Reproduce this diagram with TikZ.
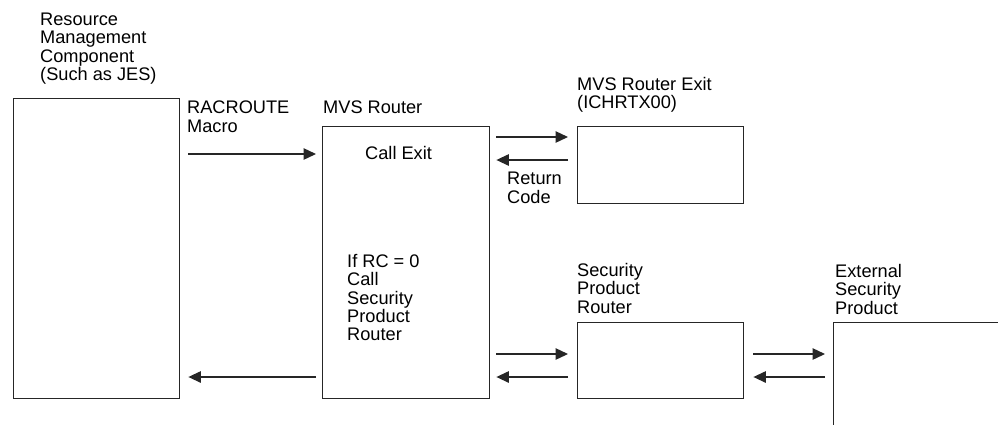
\documentclass[tikz,border=0pt]{standalone}
\usepackage{fontspec}
\setmainfont{Liberation Sans}
\usetikzlibrary{arrows.meta,calc}
\begin{document}
\begin{tikzpicture}[x=1pt,y=1pt,
  box/.style={draw=black!85, line width=1.4pt, inner sep=0pt, anchor=north west},
  lbl/.style={anchor=north west, inner sep=0pt, align=left, font=\fontsize{18.2}{18.4}\selectfont},
  arr/.style={line width=1.3pt, draw=black!85, -{Triangle[length=12.5pt,width=11.5pt]}}]
\useasboundingbox (0,0) rectangle (998,-424);
% boxes
\node[box, minimum width=166pt, minimum height=300pt] (res) at (13,-98) {};
\node[box, minimum width=167pt, minimum height=272pt] (mvs) at (322,-126) {};
\node[box, minimum width=166pt, minimum height=77pt] (exit) at (577,-126) {};
\node[box, minimum width=166pt, minimum height=76pt] (spr) at (577,-322) {};
\begin{scope}
\clip (0,0) rectangle (998,-424);
\node[box, minimum width=200pt, minimum height=140pt] (esp) at (833,-322) {};
\end{scope}
% labels
\node[lbl] (tres) at (40,-12.5) {Resource\\Management\\Component\\(Such as JES)};
\node[lbl] (trac) at (187,-101) {RACROUTE\\Macro};
\node[lbl] (tmvs) at (323,-101) {MVS Router};
\node[lbl] (tcall) at (365,-146) {Call Exit};
\node[lbl] (tif) at (347,-254) {If RC = 0\\Call\\Security\\Product\\Router};
\node[lbl] (texit) at (577,-77) {MVS Router Exit\\(ICHRTX00)};
\node[lbl] (tret) at (507,-172) {Return\\Code};
\node[lbl] (tspr) at (577,-263) {Security\\Product\\Router};
\node[lbl] (tesp) at (835,-264) {External\\Security\\Product};
% arrows
\draw[arr] ($(res.north east)+(8,-56)$) -- ($(mvs.north west)+(-6,-28)$);
\draw[arr] ($(mvs.north west)+(-6,-251)$) -- ($(res.north east)+(8,-279)$);
\draw[arr] ($(mvs.north east)+(6,-11)$) -- ($(exit.north west)+(-9,-11)$);
\draw[arr] ($(exit.north west)+(-9,-34)$) -- ($(mvs.north east)+(6,-34)$);
\draw[arr] ($(mvs.north east)+(6,-228)$) -- ($(spr.north west)+(-9,-32)$);
\draw[arr] ($(spr.north west)+(-9,-55)$) -- ($(mvs.north east)+(6,-251)$);
\draw[arr] ($(spr.north east)+(9,-32)$) -- ($(esp.north west)+(-8,-32)$);
\draw[arr] ($(esp.north west)+(-8,-55)$) -- ($(spr.north east)+(9,-55)$);
\end{tikzpicture}
\end{document}
